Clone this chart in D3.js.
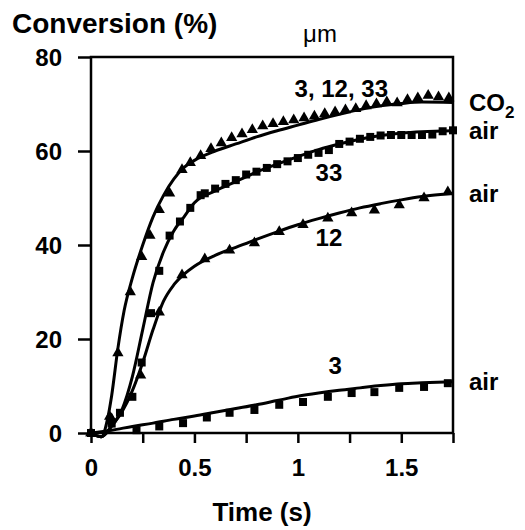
<!DOCTYPE html>
<html>
<head>
<meta charset="utf-8">
<script src="https://cdn.jsdelivr.net/npm/d3@7"></script>
<style>
  body { margin: 0; background: #fff; }
  text { font-family: "Liberation Sans", Arial, sans-serif; font-weight: bold; fill: #000; }
</style>
</head>
<body>
<div id="chart"></div>
<script>
// measured points (time s, conversion %)
var co2Marks = [[0,0],[0.09,3.5],[0.13,17],[0.19,30],[0.245,37.5],[0.285,42],[0.33,47.5],[0.38,51],
  [0.44,56],[0.48,57.5],[0.53,59],[0.58,60.5],[0.63,61.7],[0.68,62.8],[0.73,63.6],[0.78,64.5],
  [0.83,65.3],[0.88,65.8],[0.93,66.2],[0.98,66.6],[1.03,67],[1.08,67.4],[1.13,67.9],[1.18,68.3],
  [1.23,68.7],[1.28,69],[1.33,69.6],[1.38,70],[1.43,70.4],[1.48,70.2],[1.53,70.9],[1.58,71.3],
  [1.63,71.8],[1.68,71.5],[1.73,71.3]];
var air33Marks = [[0,0],[0.1,2],[0.14,4.3],[0.2,7.7],[0.245,15],[0.29,25.5],[0.33,34.5],[0.38,42],
  [0.43,45],[0.48,47.9],[0.53,50.6],[0.55,51],[0.6,52],[0.65,53],[0.7,53.8],[0.75,55],[0.8,55.6],
  [0.85,56.4],[0.9,57.2],[0.95,57.8],[1,58.5],[1.05,59.2],[1.1,59.6],[1.15,60.2],[1.2,61.5],
  [1.25,62],[1.3,62.6],[1.35,63],[1.4,63.3],[1.45,63.4],[1.5,63.4],[1.55,63.4],[1.6,63.4],
  [1.65,63.5],[1.7,64.2],[1.75,64.4]];
var air12Marks = [[0,0],[0.1,3],[0.24,12.3],[0.33,25.7],[0.44,33.6],[0.55,37],[0.67,38.9],
  [0.79,40.4],[0.91,42.8],[1.025,44.3],[1.145,45.7],[1.26,46.8],[1.37,47.4],[1.49,48.5],
  [1.61,50],[1.725,51.3]];
var air3Marks = [[0,0],[0.22,0.6],[0.33,1.4],[0.445,2.1],[0.56,3.3],[0.67,4.3],[0.79,4.9],
  [0.91,6],[1.025,6.6],[1.145,7.7],[1.26,8.5],[1.37,8.7],[1.49,9.6],[1.61,9.8],[1.725,10.6]];

// fitted curves
var co2Fit = [[0,0],[0.05,-0.8],[0.08,3],[0.1,8],[0.13,18],[0.16,26],[0.2,33],[0.25,40],[0.3,46],
  [0.35,50.5],[0.4,54],[0.45,56.5],[0.5,58],[0.6,60],[0.7,61.5],[0.8,63],[0.9,64.3],[1,65.5],
  [1.1,66.7],[1.2,67.8],[1.3,68.8],[1.4,69.6],[1.5,70.1],[1.6,70.4],[1.75,70.3]];
var air33Fit = [[0,0],[0.05,-0.8],[0.1,1.5],[0.15,5],[0.2,12],[0.25,22],[0.3,32],[0.35,38.5],
  [0.4,43],[0.45,46],[0.5,49],[0.6,51.5],[0.7,53.5],[0.8,55.5],[0.9,57.2],[1,58.8],[1.1,60.3],
  [1.2,61.5],[1.3,62.5],[1.4,63.3],[1.5,63.8],[1.6,64.1],[1.75,64.3]];
var air12Fit = [[0,0],[0.05,-0.8],[0.1,1.5],[0.15,4.5],[0.2,9],[0.25,15],[0.3,22],[0.35,28],
  [0.4,31.5],[0.45,33.8],[0.5,35.5],[0.6,37.8],[0.7,39.5],[0.8,41.2],[0.9,42.8],[1,44.3],
  [1.1,45.6],[1.2,46.8],[1.3,47.9],[1.4,48.8],[1.5,49.6],[1.6,50.3],[1.75,51]];
var air3Fit = [[0,0],[0.1,0.6],[0.2,1.4],[0.3,2.1],[0.4,2.9],[0.5,3.6],[0.6,4.4],[0.7,5.2],
  [0.8,6],[0.9,6.9],[1,7.8],[1.1,8.5],[1.2,9.1],[1.3,9.6],[1.4,10.1],[1.5,10.5],[1.6,10.7],[1.75,10.9]];

var yTicks = [0, 20, 40, 60, 80];
var xTicks = [0, 0.25, 0.5, 0.75, 1, 1.25, 1.5, 1.75];
var xTickLabels = ["0", "", "0.5", "", "1", "", "1.5", ""];
var endLabels = [["CO", "2", 70.3], ["air", "", 64.3], ["air", "", 51], ["air", "", 10.9]];
var curveLabels = [["3, 12, 33", 1.21, 73.4], ["33", 1.15, 55.4], ["12", 1.15, 41.6], ["3", 1.18, 14.4]];

var width = 525, height = 530;
var svg = d3.select("#chart").append("svg")
  .attr("width", width)
  .attr("height", height);

var x = d3.scaleLinear().domain([0, 1.75]).range([91, 453]);
var y = d3.scaleLinear().domain([0, 80]).range([433, 57]);

// frame
svg.append("rect")
  .attr("x", x(0)).attr("y", y(80))
  .attr("width", x(1.75) - x(0)).attr("height", y(0) - y(80))
  .attr("fill", "none").attr("stroke", "#000").attr("stroke-width", 2.5);

var yAxis = svg.append("g")
  .attr("transform", "translate(" + x(0) + ",0)")
  .call(d3.axisLeft(y).tickValues(yTicks).tickSize(13).tickSizeOuter(0).tickPadding(16));
var xAxis = svg.append("g")
  .attr("transform", "translate(0," + y(0) + ")")
  .call(d3.axisBottom(x).tickValues(xTicks).tickSize(10).tickSizeOuter(0).tickPadding(16)
    .tickFormat(function(d, i) { return xTickLabels[i]; }));

[yAxis, xAxis].forEach(function(g) {
  g.select(".domain").remove();
  g.selectAll("line").attr("stroke", "#000").attr("stroke-width", 2.5);
  g.selectAll("text").style("font-size", "24px").style("font-family", null);
});
yAxis.selectAll("text").attr("dy", "0.36em");

var line = d3.line()
  .x(function(d) { return x(d[0]); })
  .y(function(d) { return y(d[1]); })
  .curve(d3.curveMonotoneX);

[co2Fit, air33Fit, air12Fit, air3Fit].forEach(function(fit) {
  svg.append("path")
    .attr("d", line(fit))
    .attr("fill", "none")
    .attr("stroke", "#000")
    .attr("stroke-width", 3);
});

var tri = d3.symbol().type(d3.symbolTriangle).size(55);
var sq = d3.symbol().type(d3.symbolSquare).size(64);

function marks(data, sym) {
  svg.append("g").selectAll("path")
    .data(data)
    .enter()
    .append("path")
    .attr("d", sym)
    .attr("transform", function(d) { return "translate(" + x(d[0]) + "," + y(d[1]) + ")"; })
    .attr("fill", "#000");
}
marks(co2Marks, tri);
marks(air33Marks, sq);
marks(air12Marks, tri);
marks(air3Marks, sq);

// labels
svg.append("text").attr("x", 12).attr("y", 33).style("font-size", "28px").text("Conversion (%)");
svg.append("text").attr("x", 320).attr("y", 42).attr("text-anchor", "middle")
  .style("font-size", "24px").style("font-weight", "normal").text("\u03bcm");

var ends = svg.selectAll(".endlab")
  .data(endLabels)
  .enter()
  .append("text")
  .attr("x", 469)
  .attr("y", function(d) { return y(d[2]); })
  .attr("dy", "0.36em")
  .style("font-size", "24px");
ends.append("tspan").text(function(d) { return d[0]; });
ends.append("tspan")
  .attr("dy", 7)
  .style("font-size", "17px")
  .text(function(d) { return d[1]; });

svg.selectAll(".curvelab")
  .data(curveLabels)
  .enter()
  .append("text")
  .attr("x", function(d) { return x(d[1]); })
  .attr("y", function(d) { return y(d[2]); })
  .attr("dy", "0.36em")
  .attr("text-anchor", "middle")
  .style("font-size", "24px")
  .text(function(d) { return d[0]; });

svg.append("text").attr("x", 262).attr("y", 521).attr("text-anchor", "middle")
  .style("font-size", "26px").text("Time (s)");
</script>
</body>
</html>
